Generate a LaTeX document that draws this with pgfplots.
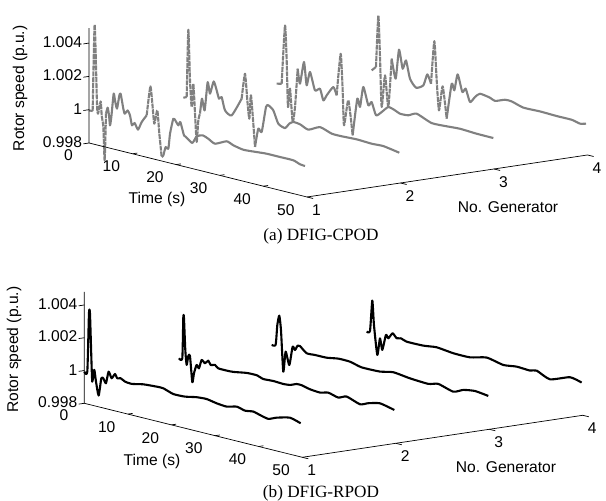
\documentclass[border=0pt]{standalone}
\usepackage{fontspec}
\setmainfont{Liberation Sans}
\newfontfamily\capfont{Liberation Serif}
\usepackage{pgfplots}
\pgfplotsset{compat=1.18}
\tikzset{axln/.style={black,line width=0.35pt}}
\pgfplotsset{
  panel/.style={
    x={(46.75pt,7pt)}, y={(2.18pt,-0.54pt)},
    xmin=1,xmax=4,ymin=0,ymax=50,zmin=0.998,
    axis line style={draw=none},
    xtick={1,2,3,4}, ytick={0,10,20,30,40,50}, ztick={0.998,1,1.002,1.004},
    xticklabels={1,2,3,4}, yticklabels={0,10,20,30,40,50}, zticklabels={0.998,1,1.002,1.004},
    major tick length=0pt,
    tick style={draw=none},
    tick label style={font=\fontsize{7.8}{9}\selectfont},
    label style={font=\fontsize{7.8}{9}\selectfont},
    xticklabel style={xshift=-0.25pt},
    yticklabel style={xshift=-4.75pt,yshift=0.4pt},
    clip=false, grid=none,
  },
  gs/.style={no marks,color=gray,line width=1.05pt,line join=round,smooth,tension=0.35},
  gd/.style={no marks,color=gray,line width=1.05pt,line join=round,smooth,tension=0.35,dash pattern=on 2.5pt off 0.4pt},
  ks/.style={no marks,color=black,line width=1.05pt,line join=round,smooth,tension=0.35},
}
\begin{document}
\begin{tikzpicture}
\useasboundingbox (0,0) rectangle (303pt,250.5pt);
\begin{axis}[panel, at={(44.5pt,152pt)}, anchor=south west,
  z={(0pt,8325pt)}, zmax=1.0049,
  xlabel={No. Generator}, ylabel={Time (s)}, zlabel={Rotor speed (p.u.)},
  xlabel style={at={(axis description cs:0.8405,-0.0474)},anchor=center,rotate=0},
  ylabel style={at={(axis description cs:0.1364,-0.0107)},anchor=center,rotate=0},
  zlabel style={at={(axis description cs:-0.1384,0.515)},anchor=center,rotate=0},
]
% generator 1
\addplot3[gs] coordinates {(1,0,0.99996)(1,0.84,0.99997)};
\addplot3[gd] coordinates {(1,0.84,0.99997)(1,1.30,1.00520)(1,1.83,1.00048)(1,2.06,0.99989)(1,2.68,1.00067)(1,2.91,0.99985)(1,3.29,0.99917)(1,3.59,0.99719)(1,3.90,1.00001)};
\addplot3[gs] coordinates {(1,3.90,1.00001)(1,4.28,1.00040)(1,4.59,0.99996)(1,4.82,0.99937)(1,5.12,0.99989)(1,5.66,1.00133)(1,5.96,1.00095)(1,6.42,1.00048)(1,6.96,1.00131)(1,7.26,1.00143)(1,7.80,1.00067)(1,8.18,1.00029)(1,8.87,1.00053)(1,9.40,1.00027)(1,9.86,0.99970)(1,10.47,0.99988)(1,11.24,0.99953)(1,12.08,1.00004)(1,13.23,1.00052)};
\addplot3[gd] coordinates {(1,13.23,1.00052)(1,14.07,1.00231)(1,14.53,1.00130)(1,14.98,1.00013)(1,15.67,1.00098)(1,16.13,0.99961)(1,16.67,0.99824)};
\addplot3[gs] coordinates {(1,16.67,0.99824)(1,17.05,0.99836)(1,17.58,0.99890)(1,18.20,0.99884)(1,18.58,0.99976)(1,19.34,1.00071)(1,19.88,1.00061)(1,20.49,1.00039)(1,20.95,1.00062)(1,21.79,0.99987)(1,22.40,0.99977)(1,23.70,0.99954)(1,24.69,1.00000)(1,26.07,1.00015)(1,27.37,1.00003)(1,28.90,0.99983)(1,31.57,1.00015)(1,33.10,1.00001)(1,35.40,0.99989)(1,38.46,0.99995)(1,40.75,1.00000)(1,43.81,1.00000)(1,46.87,1.00000)(1,48.39,0.99986)(1,49.54,0.99983)};
% generator 2
\addplot3[gs] coordinates {(2,0.19,0.99989)(2,0.96,0.99998)};
\addplot3[gd] coordinates {(2,0.96,0.99998)(2,1.34,1.00405)(2,1.72,1.00103)(2,2.10,0.99946)(2,2.48,1.00088)(2,2.87,0.99911)(2,3.25,0.99743)(2,3.63,0.99876)(2,4.01,0.99918)};
\addplot3[gs] coordinates {(2,4.01,0.99918)(2,4.47,1.00011)(2,5.08,0.99945)(2,5.77,1.00119)(2,6.31,1.00053)(2,7.15,1.00132)(2,7.84,1.00083)(2,8.37,1.00036)(2,8.98,1.00050)(2,9.75,0.99975)(2,11.28,0.99955)(2,13.57,1.00070)};
\addplot3[gd] coordinates {(2,13.57,1.00070)(2,14.33,1.00225)(2,14.87,1.00068)(2,15.33,0.99961)(2,15.71,1.00104)(2,16.63,0.99800)};
\addplot3[gs] coordinates {(2,16.63,0.99800)(2,17.39,0.99915)(2,18.16,0.99900)(2,19.15,1.00056)(2,19.69,1.00070)(2,20.83,1.00047)(2,21.98,0.99974)(2,23.51,0.99958)(2,24.50,0.99991)(2,25.42,1.00007)(2,26.95,1.00003)(2,28.86,0.99983)(2,31.54,1.00016)(2,34.21,0.99994)(2,36.51,0.99993)(2,39.95,0.99997)(2,43.39,0.99993)(2,46.06,0.99996)(2,49.73,0.99980)};
% generator 3
\addplot3[gs] coordinates {(3,0.15,0.99989)(3,1.30,0.99996)};
\addplot3[gd] coordinates {(3,1.30,0.99996)(3,2.06,1.00351)(3,2.45,1.00144)(3,2.75,0.99866)(3,3.21,0.99979)(3,3.82,0.99783)(3,4.36,0.99876)(3,4.97,1.00110)};
\addplot3[gs] coordinates {(3,4.97,1.00110)(3,5.50,1.00024)(3,6.42,1.00160)(3,7.03,1.00024)(3,7.80,1.00109)(3,8.94,1.00006)(3,10.09,1.00023)(3,10.86,0.99958)(3,11.62,0.99993)(3,13.15,1.00053)(3,13.91,1.00008)};
\addplot3[gd] coordinates {(3,13.91,1.00008)(3,14.83,1.00264)(3,15.29,1.00047)(3,15.60,0.99839)(3,16.59,0.99996)(3,17.58,0.99792)};
\addplot3[gs] coordinates {(3,17.58,0.99792)(3,18.65,1.00019)(3,19.27,0.99973)(3,20.03,1.00098)(3,21.18,0.99995)(3,21.94,1.00020)(3,22.94,0.99947)(3,24.24,0.99975)(3,25.76,1.00015)(3,27.29,1.00005)(3,28.44,0.99992)(3,30.35,0.99995)(3,32.26,1.00017)(3,35.70,0.99983)(3,39.14,0.99986)(3,42.20,0.99991)(3,46.02,0.99986)(3,49.85,0.99985)};
% generator 4
\addplot3[gs] coordinates {(4,0.50,0.99987)(4,1.49,1.00014)};
\addplot3[gd] coordinates {(4,1.49,1.00014)(4,2.03,1.00327)(4,2.41,1.00080)(4,2.79,0.99782)(4,3.56,0.99977)(4,4.32,0.99792)(4,5.08,1.00087)};
\addplot3[gs] coordinates {(4,5.08,1.00087)(4,6.00,0.99973)(4,6.77,1.00152)(4,7.61,1.00043)(4,8.37,1.00098)(4,9.29,0.99994)(4,10.67,0.99949)(4,12.35,0.99974)(4,13.26,1.00046)(4,14.11,0.99995)};
\addplot3[gd] coordinates {(4,14.11,0.99995)(4,14.87,1.00256)(4,15.41,1.00024)(4,15.94,0.99847)(4,16.78,0.99997)(4,17.70,0.99809)};
\addplot3[gs] coordinates {(4,17.70,0.99809)(4,18.85,1.00026)(4,19.46,0.99990)(4,20.22,1.00091)(4,21.29,0.99992)(4,22.06,1.00017)(4,23.05,0.99943)(4,24.20,0.99981)(4,25.34,1.00008)(4,27.64,0.99999)(4,28.78,0.99987)(4,31.08,1.00009)(4,32.61,1.00009)(4,35.28,0.99989)(4,39.11,0.99991)(4,42.93,0.99988)(4,46.37,0.99988)(4,48.28,0.99977)(4,49.66,0.99986)};
\draw[axln] (axis cs:1,0,1.0049)--(axis cs:1,0,0.998)--(axis cs:1,50,0.998)--(axis cs:4,50,0.998);
\draw[axln] (axis cs:1,0,0.998)--(axis cs:0.94,0,0.998) (axis cs:1,0,1)--(axis cs:0.94,0,1) (axis cs:1,0,1.002)--(axis cs:0.94,0,1.002) (axis cs:1,0,1.004)--(axis cs:0.94,0,1.004);
\draw[axln] (axis cs:1,10,0.998)--(axis cs:1.05,10,0.998) (axis cs:1,20,0.998)--(axis cs:1.05,20,0.998) (axis cs:1,30,0.998)--(axis cs:1.05,30,0.998) (axis cs:1,40,0.998)--(axis cs:1.05,40,0.998);
\draw[axln] (axis cs:1,50,0.998)--(axis cs:1,51.4,0.998) (axis cs:2,50,0.998)--(axis cs:2,51.4,0.998) (axis cs:3,50,0.998)--(axis cs:3,51.4,0.998) (axis cs:4,50,0.998)--(axis cs:4,51.4,0.998);
\end{axis}
\begin{axis}[panel, at={(42.15pt,21.85pt)}, anchor=south west,
  z={(0pt,8192pt)}, zmax=1.0048,
  xlabel={No. Generator}, ylabel={Time (s)}, zlabel={Rotor speed (p.u.)},
  xlabel style={at={(axis description cs:0.8459,-0.0467)},anchor=center,rotate=0},
  ylabel style={at={(axis description cs:0.1358,-0.019)},anchor=center,rotate=0},
  zlabel style={at={(axis description cs:-0.141,0.52)},anchor=center,rotate=0},
]
\addplot3[ks] coordinates {(1,0,0.99993)(1,0.69,0.99998)(1,1.07,1.00357)(1,1.30,1.00358)(1,1.61,1.00095)(1,1.83,0.99944)(1,2.29,1.00019)(1,2.68,0.99950)(1,3.29,0.99869)(1,3.90,0.99978)(1,4.36,0.99981)(1,4.97,0.99955)(1,5.58,1.00030)(1,6.27,0.99994)(1,7.03,1.00025)(1,7.57,1.00002)(1,8.33,1.00008)(1,9.33,0.99994)(1,10.86,0.99990)(1,13.53,1.00005)(1,16.59,1.00011)(1,18.12,1.00011)(1,20.41,0.99991)(1,23.09,0.99993)(1,25.76,1.00007)(1,28.06,1.00011)(1,30.35,1.00000)(1,32.65,0.99995)(1,34.94,1.00010)(1,36.85,0.99998)(1,38.76,1.00005)(1,40.29,0.99994)(1,42.20,0.99983)(1,44.11,1.00003)(1,47.17,1.00023)(1,49.62,1.00005)};
\addplot3[ks] coordinates {(2,0.27,0.99991)(2,1.03,0.99996)(2,1.26,1.00246)(2,1.41,1.00247)(2,1.72,1.00052)(2,2.03,0.99962)(2,2.41,1.00019)(2,2.79,1.00022)(2,3.33,0.99865)(2,3.71,0.99922)(2,4.32,0.99977)(2,4.85,0.99960)(2,5.47,1.00015)(2,6.23,1.00000)(2,7.00,1.00021)(2,7.53,0.99998)(2,8.52,1.00005)(2,9.29,0.99989)(2,11.20,0.99988)(2,12.73,0.99990)(2,15.79,1.00004)(2,18.08,1.00005)(2,19.61,0.99992)(2,21.90,0.99995)(2,24.20,0.99992)(2,25.73,0.99996)(2,27.26,1.00012)(2,28.40,1.00012)(2,30.31,1.00000)(2,32.61,0.99995)(2,34.52,1.00007)(2,36.81,0.99992)(2,38.72,1.00011)(2,41.78,0.99984)(2,43.69,1.00003)(2,46.37,1.00020)(2,49.66,1.00001)};
\addplot3[ks] coordinates {(3,0.08,0.99986)(3,0.99,0.99992)(3,1.38,1.00116)(3,1.83,1.00176)(3,2.22,1.00091)(3,2.75,0.99840)(3,3.29,0.99966)(3,4.13,0.99890)(3,4.89,1.00007)(3,5.43,0.99990)(3,6.04,1.00021)(3,6.57,1.00022)(3,8.10,0.99988)(3,10.02,0.99990)(3,12.69,0.99991)(3,15.37,1.00003)(3,18.04,1.00002)(3,20.72,0.99985)(3,24.92,0.99987)(3,27.98,1.00003)(3,31.80,0.99991)(3,36.01,0.99985)(3,38.30,1.00000)(3,41.74,0.99975)(3,44.04,1.00001)(3,46.71,1.00012)(3,49.77,1.00002)};
\addplot3[ks] coordinates {(4,0.42,0.99984)(4,1.19,0.99993)(4,1.72,1.00182)(4,2.10,1.00036)(4,2.87,0.99858)(4,3.48,0.99963)(4,4.01,0.99896)(4,4.85,0.99993)(4,5.39,0.99976)(4,6.38,1.00013)(4,7.30,0.99989)(4,8.30,0.99995)(4,9.59,0.99983)(4,13.42,0.99984)(4,16.48,0.99994)(4,20.30,0.99983)(4,24.12,0.99983)(4,27.94,1.00007)(4,31.77,0.99987)(4,34.82,0.99997)(4,37.88,0.99993)(4,39.41,1.00003)(4,42.47,0.99970)(4,47.06,1.00013)(4,49.73,0.99998)};
\draw[axln] (axis cs:1,0,1.0048)--(axis cs:1,0,0.998)--(axis cs:1,50,0.998)--(axis cs:4,50,0.998);
\draw[axln] (axis cs:1,0,0.998)--(axis cs:0.94,0,0.998) (axis cs:1,0,1)--(axis cs:0.94,0,1) (axis cs:1,0,1.002)--(axis cs:0.94,0,1.002) (axis cs:1,0,1.004)--(axis cs:0.94,0,1.004);
\draw[axln] (axis cs:1,10,0.998)--(axis cs:1.05,10,0.998) (axis cs:1,20,0.998)--(axis cs:1.05,20,0.998) (axis cs:1,30,0.998)--(axis cs:1.05,30,0.998) (axis cs:1,40,0.998)--(axis cs:1.05,40,0.998);
\draw[axln] (axis cs:1,50,0.998)--(axis cs:1,51.4,0.998) (axis cs:2,50,0.998)--(axis cs:2,51.4,0.998) (axis cs:3,50,0.998)--(axis cs:3,51.4,0.998) (axis cs:4,50,0.998)--(axis cs:4,51.4,0.998);
\end{axis}
\node[font=\capfont\fontsize{8.6}{10}\selectfont] at (160.5pt,132.5pt) {(a) DFIG-CPOD};
\node[font=\capfont\fontsize{8.6}{10}\selectfont] at (160.5pt,4pt) {(b) DFIG-RPOD};
\end{tikzpicture}
\end{document}
